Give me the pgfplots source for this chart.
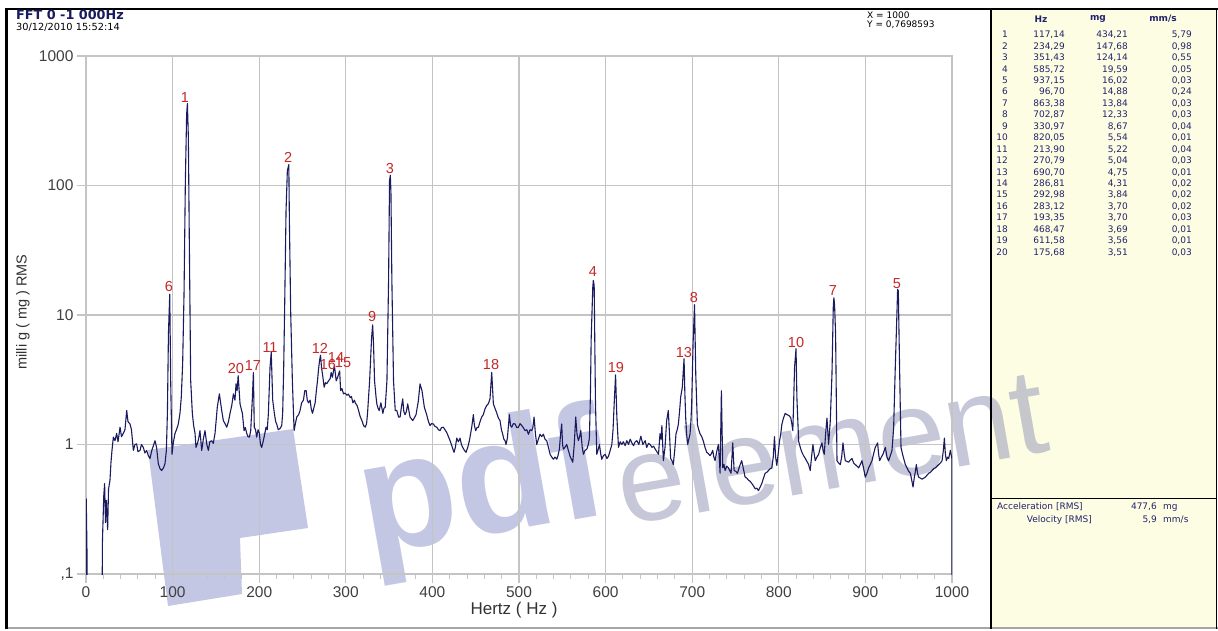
\documentclass[border=0pt]{standalone}
\usepackage{fontspec}
\setmainfont{Liberation Sans}
\newfontfamily\vfont{DejaVu Sans}
\usepackage{pgfplots}
\pgfplotsset{compat=1.18}
\usepackage{pgfplotstable}
\definecolor{navy}{HTML}{1A1A5E}
\definecolor{peakred}{HTML}{C62828}
\definecolor{gridc}{HTML}{C4C4C4}
\definecolor{panel}{HTML}{FDFDE3}
\definecolor{wm}{HTML}{9DA3D2}
\definecolor{wmg}{HTML}{A0A3BE}
\definecolor{tabc}{HTML}{22226C}

\pgfplotstableread{
x y
0 0.05
0.3 0.38
1.2 0.14
1.5 0.05
18.5 0.05
19 0.18
20.5 0.40
21.5 0.50
22.5 0.25
23.5 0.37
25 0.22
26 0.45
27.7 0.53
28.8 0.72
30 0.9
31.6 1.14
33.5 1.07
35.4 1.22
37 1.05
39.3 1.36
41 1.15
43.1 1.22
45 1.3
47 1.83
48.5 1.5
50.8 1.44
52.5 1.3
54.7 0.90
56.5 1.0
58.5 1.01
60 0.88
62.4 0.90
64 1.0
66.2 0.95
68 0.86
70 0.90
72 0.82
73.9 0.78
76 0.9
79.7 1.07
81.5 0.95
83.5 0.71
85.5 0.65
87.4 0.63
89.5 0.66
91.2 0.71
92.8 0.9
94 1.74
95.2 7.2
96.7 14.5
97.8 3.1
99.3 0.84
101 1.05
102.8 1.22
104.5 1.3
106.6 1.44
108.5 1.74
110 2.3
111.6 4.2
113.2 14.6
114.7 103
116.2 356
117.1 430
118.2 236
119.3 37.6
120.9 3.1
122.8 1.74
124.3 1.4
125.9 1.22
127 0.95
128.5 1.01
130 1.1
131.6 1.28
133.6 0.90
135.5 1.1
137.4 1.28
139.5 1.0
141.3 0.90
143 1.05
145.1 1.07
147 1.02
149 1.22
151.6 1.94
154 2.46
156.7 1.83
158.6 1.53
160.5 1.45
162.5 1.36
164.5 1.5
166.3 1.74
168.3 2.0
170.2 2.46
172 2.2
173.3 2.95
174.5 2.6
175.7 3.4
177.9 2.05
180.6 1.74
182.5 1.28
184 1.35
185.6 1.22
187 1.15
188.7 1.14
190.2 1.28
192 2.2
193.3 3.6
194.3 1.36
195.8 1.3
197.1 1.14
198.7 1.3
200.2 1.22
201.5 1.0
202.9 0.95
204.8 1.07
206.3 1.2
207.9 1.36
209.3 1.3
210.6 1.74
212.5 3.95
213.9 5.15
215.6 2.2
217.5 1.74
219 1.5
220.2 1.44
222 1.3
224.1 1.33
226 1.4
227.1 1.74
228.3 4
229.4 11.5
231 64
232.5 130
234.2 145
234.9 51
236.4 10.2
238.3 3.1
240.3 1.28
241.8 1.45
243.4 1.63
245.5 1.7
247.2 1.83
249 2.1
251.1 2.2
252.6 2.6
254.2 2.61
255.5 2.2
256.9 2.1
258.8 2.2
260 1.9
261.5 1.74
263 1.9
264.6 2.1
266 2.6
267.3 3.1
268.5 3.8
269.6 4.4
270.8 4.9
272 3.9
273.1 3.5
275 2.77
276.5 3.0
278.1 2.95
280 3.1
282 3.23
283.1 3.6
284.6 3.3
286.8 4.1
288.9 3.1
290.5 3.3
292.9 3.7
294 2.61
295.5 2.7
297.4 2.46
299 2.5
301.3 2.4
303 2.45
305.1 2.3
306.5 2.35
308.2 2.1
310 2.2
310.9 2.1
313 2.0
314.8 1.83
316.5 1.65
318.6 1.53
320.5 1.4
322.5 1.36
324 1.45
325.1 1.74
327.5 3.1
329.8 6.7
331 8.4
332 6
333.2 3.1
335 2.3
335.9 2.05
337.3 1.9
338.6 1.83
340.5 2.1
342.8 1.74
344 1.9
345.5 1.94
347.5 3.1
349.4 18.5
350.5 109
351.4 120
352.1 91
353.2 18.5
355.1 3.1
357.1 1.83
358.9 1.83
360.9 1.63
362.7 1.63
364 1.9
365.7 2.25
367 1.8
368.4 1.7
370 1.8
371.5 2.06
373 1.8
374.2 1.63
377.3 1.53
379 1.6
381.1 1.7
383.8 2.18
385.7 2.94
388 2.6
390.7 1.94
393.4 1.7
395.5 1.5
397.3 1.40
399 1.45
401.1 1.44
403 1.38
405 1.36
407 1.3
408.8 1.28
410.5 1.35
412.7 1.36
414.5 1.3
416.5 1.24
418.5 1.15
420.4 1.07
423 0.95
425 0.87
426.5 0.95
428.1 1.12
430 1.05
431.9 1.12
433.5 1.0
435 0.95
437 0.9
438.8 0.87
440.8 0.95
442.7 1.07
444 1.2
445.4 1.36
447.3 1.7
448.5 1.4
450 1.28
451.5 1.35
453.1 1.36
455 1.5
456.9 1.63
458.8 1.7
460.8 1.89
462.7 2.0
464.6 2.06
466.5 2.25
468.5 3.6
470.4 2.06
472.3 1.9
474.2 1.76
476.2 1.6
478.1 1.53
479.7 1.3
481.2 1.2
482.5 1.1
483.9 1.07
485 1.0
486.6 1.12
488.9 1.7
490.2 1.4
491.6 1.36
493.5 1.45
495.5 1.44
497.4 1.35
499.3 1.36
501.2 1.45
503.2 1.40
505 1.35
507 1.28
509 1.3
510.9 1.2
512.8 1.3
514.7 1.28
516 1.35
517.4 1.63
519 1.2
520.5 1.0
522.4 1.1
524.3 1.2
526.2 1.15
528.2 1.2
530 1.1
532 1.07
534 0.95
535.9 0.84
537.8 0.8
539.7 0.77
541.6 0.8
543.6 0.77
545 0.82
546.6 0.92
548 1.2
549.3 1.44
550.3 1.0
551.3 0.92
553 0.95
555.1 1.0
557 0.9
559 0.81
560.5 0.77
562.1 0.73
563.8 1.0
565.5 1.63
567 1.2
568.6 1.07
570 1.15
571.3 1.28
573 0.95
574.4 0.84
576.3 0.9
578.3 0.92
580 1.0
581.3 1.12
582.5 2.5
583.3 6.4
585.2 16.4
585.8 18.5
586.8 17
588.3 2.1
589.8 0.84
591.5 0.92
592.9 1.0
594.3 0.85
595.6 0.77
597.5 0.82
599.5 0.84
601.5 0.78
603.3 0.81
605.3 0.9
607.2 1.0
608.6 1.3
609.9 2.06
611.5 3.45
613 1.63
614.9 0.95
616.8 1.05
618.7 1.0
620.5 1.05
622.5 0.98
624.5 1.07
626.5 1.0
628.4 1.1
630.3 1.03
632.2 0.98
634.2 1.05
636.1 1.07
638.4 1.0
640.7 1.16
643 1.0
645.7 1.07
647.5 0.95
649.5 1.02
651.5 1.0
653.5 0.95
655.4 0.97
657.3 0.92
659.2 0.88
661.1 0.84
662.8 1.21
664 1.1
665 1.40
666.7 0.75
668.6 0.95
670.5 1.53
672.4 1.83
673.8 1.2
675.1 0.78
676.6 0.75
678.2 0.70
679.8 0.9
681.3 1.21
682.7 1.3
684 1.43
685.4 1.8
686.7 2.32
688.6 2.77
689.6 3.6
690.6 4.6
691.5 2.5
692.5 1.6
693.6 1.2
694.8 1.0
696.1 1.1
697.5 1.21
698.5 1.5
699.4 2.06
701 6.0
702.7 12.0
704.1 3.5
706 1.43
707.5 1.3
709.1 1.21
711 1.15
712.9 1.06
714.8 0.95
716.8 0.87
718.7 0.85
720.6 0.82
722.1 0.85
723.7 0.9
725 0.8
726.4 0.75
728.3 0.88
730.2 1.0
731.2 0.8
732.2 0.6
733.7 2.6
735.3 0.66
736.7 0.7
738 0.63
740 0.68
741.8 0.66
743.3 0.63
744.9 0.6
746.8 1.03
748.4 0.63
750.3 0.62
752.2 0.6
754.7 0.68
757.2 0.75
759.1 0.65
761.1 0.56
763 0.55
765 0.53
766.9 0.52
768.8 0.50
770.7 0.48
772.7 0.455
774.6 0.46
776.5 0.44
778.5 0.47
780.4 0.50
782.3 0.55
784.2 0.6
786.1 0.61
788.1 0.63
790 0.65
791.9 0.66
793.6 0.8
795 1.15
796.3 0.8
797.7 0.69
799.3 0.85
800.8 1.06
802.2 1.2
803.5 1.43
805.4 1.6
807.4 1.74
809.3 1.7
811.2 1.68
812.6 1.65
813.9 1.6
815 1.45
816.2 1.28
817.2 2.2
818.2 3.95
819.9 5.5
820.9 2.3
822.9 1.06
824.8 0.95
826.7 0.87
828.6 0.82
830.6 0.78
832.5 0.74
834.4 0.70
836.3 0.63
837.8 0.8
839.4 1.0
840.8 0.85
842.1 0.75
844 0.8
846 0.84
848 0.95
849.8 1.03
851.2 0.9
852.5 0.84
854 1.2
855.6 1.6
857.5 1.0
859.4 1.5
861.4 3.5
862.9 11.5
863.6 13.6
864.4 12
865.6 7.0
867.2 0.75
869 0.72
871 0.70
872.6 0.8
874.1 1.03
875.5 0.85
876.8 0.75
878.7 0.74
880.6 0.73
882.6 0.76
884.5 0.78
886.4 0.72
888.3 0.70
890.3 0.68
892.2 0.66
894.1 0.7
896 0.75
898 0.65
899.9 0.56
901.8 0.6
903.7 0.66
905.6 0.7
907.6 0.75
909.5 0.85
911.4 0.95
914.1 1.03
915.2 0.85
916.4 0.75
918.4 0.8
920.3 0.84
921.7 0.9
923 0.95
924.9 0.8
926.8 0.75
928.8 0.82
930.7 0.9
932.6 1.35
934.5 3.95
936.5 10.8
937.2 15.8
938 15.4
939.6 3.5
941.1 0.95
942.7 0.85
944.2 0.78
946.1 0.7
948 0.66
950 0.62
951.9 0.6
953.5 0.53
955 0.47
956.5 0.56
957.7 0.62
958.8 0.70
960.2 0.6
961.5 0.56
963.5 0.55
965.4 0.54
967.3 0.55
969.2 0.56
971.2 0.58
973.1 0.6
975 0.61
976.9 0.63
978.9 0.65
980.8 0.66
982.7 0.68
984.6 0.70
986.6 0.72
988.5 0.75
990 0.9
991.2 1.12
992.3 0.85
993.5 0.75
995 0.8
996.2 0.78
998.1 0.9
1000 0.77
1000 0.05
}\spec

\newcommand\trow[4]{%
  \pgfmathsetmacro\yy{592.3-(#1-1)*11.45}%
  \node[anchor=base east,tabtxt] at (1008,\yy) {#1};%
  \node[anchor=base east,tabtxt] at (1065,\yy) {#2};%
  \node[anchor=base east,tabtxt] at (1128,\yy) {#3};%
  \node[anchor=base east,tabtxt] at (1192,\yy) {#4};%
}

\begin{document}
\begin{tikzpicture}[x=1pt,y=1pt,
  tabtxt/.style={inner sep=0pt,text=tabc,font=\vfont\fontsize{9}{9}\selectfont},
  peaklbl/.style={inner sep=0pt,text=peakred,font=\fontsize{14.5}{14.5}\selectfont}]
\useasboundingbox (0,0) rectangle (1218,630);
\fill[white] (0,0) rectangle (1218,630);
\fill[panel] (991,2) rectangle (1216.5,621);
% watermark
\fill[wm,opacity=0.6] (148,180) -- (293,201) -- (308,102) -- (240,92) -- (242,36) -- (168,24) -- cycle;
\node[anchor=base west,rotate=10,inner sep=0pt,text=wm,text opacity=0.6,font=\fontsize{160}{160}\selectfont\bfseries] at (368,74) {pdf};
\node[anchor=base west,rotate=10,inner sep=0pt,text=wmg,text opacity=0.6,font=\fontsize{122}{122}\selectfont] at (624,104) {element};

\begin{axis}[at={(86pt,56pt)}, anchor=south west, scale only axis,
  width=866pt, height=518pt,
  xmin=0, xmax=1000, ymode=log, ymin=0.1, ymax=1000,
  axis line style={gridc, line width=1.2pt},
  grid=major, major grid style={gridc, line width=1.2pt},
  xtick={0,100,...,1000}, minor x tick num=4, yminorticks=false,
  ytick={0.1,1,10,100,1000}, yticklabels={{,1},1,10,100,1000},
  tick align=outside, tick pos=left,
  major tick length=9pt, minor tick length=5pt,
  tick style={gridc, line width=1.2pt},
  minor tick style={gridc, line width=1pt},
  tick label style={font=\fontsize{15.5}{15.5}\selectfont, text=black!75},
  /pgf/number format/assume math mode=true, /pgf/number format/1000 sep={},
  clip=true]
\addplot[navy, line width=1.1pt, line join=round] table {\spec};
\node[peaklbl] at (axis cs:114.3,478) {1};
\node[peaklbl] at (axis cs:233.3,164) {2};
\node[peaklbl] at (axis cs:351,135) {3};
\node[peaklbl] at (axis cs:585.4,21.7) {4};
\node[peaklbl] at (axis cs:936.5,17.5) {5};
\node[peaklbl] at (axis cs:95.8,16.6) {6};
\node[peaklbl] at (axis cs:862.6,15.5) {7};
\node[peaklbl] at (axis cs:702.1,13.6) {8};
\node[peaklbl] at (axis cs:330.3,9.7) {9};
\node[peaklbl] at (axis cs:819.9,6.1) {10};
\node[peaklbl] at (axis cs:212.5,5.61) {11};
\node[peaklbl] at (axis cs:270.2,5.51) {12};
\node[peaklbl] at (axis cs:690.5,5.13) {13};
\node[peaklbl] at (axis cs:288.7,4.70) {14};
\node[peaklbl] at (axis cs:296.8,4.30) {15};
\node[peaklbl] at (axis cs:279.4,4.15) {16};
\node[peaklbl] at (axis cs:192.8,4.07) {17};
\node[peaklbl] at (axis cs:467.7,4.15) {18};
\node[peaklbl] at (axis cs:612,3.93) {19};
\node[peaklbl] at (axis cs:173.2,3.86) {20};
\end{axis}

% axis titles
\node[rotate=90,inner sep=0pt,text=black!80,font=\fontsize{14.5}{14.5}\selectfont] at (23,318) {milli g ( mg ) RMS};
\node[inner sep=0pt,text=black!80,font=\fontsize{17}{17}\selectfont] at (514,20) {Hertz ( Hz )};

% frame
\draw[gray!70, line width=2pt] (5,2) -- (1218,2);
\draw[black, line width=3pt] (6.5,622) -- (6.5,1);
\draw[black, line width=2.5pt] (5,621) -- (1217.5,621);
\draw[black, line width=2pt] (991,621) -- (991,1);
\draw[black, line width=1.5pt] (1216.5,621) -- (1216.5,1);
\draw[black, line width=0.8pt] (991,132) -- (1216.5,132);

% header
\node[anchor=west,inner sep=0pt,text=navy,font=\vfont\bfseries\fontsize{12.8}{12.8}\selectfont] at (16,615) {FFT 0 -1 000Hz};
\node[anchor=west,inner sep=0pt,font=\vfont\fontsize{9.8}{9.8}\selectfont] at (16,603) {30/12/2010 15:52:14};
\node[anchor=west,inner sep=0pt,font=\vfont\fontsize{9}{9}\selectfont] at (867,614.5) {X = 1000};
\node[anchor=west,inner sep=0pt,font=\vfont\fontsize{9}{9}\selectfont] at (867,605) {Y = 0,7698593};

% table
\node[inner sep=0pt,text=tabc,font=\vfont\bfseries\fontsize{9}{9}\selectfont] at (1041,611) {Hz};
\node[inner sep=0pt,text=tabc,font=\vfont\bfseries\fontsize{9}{9}\selectfont] at (1098,611) {mg};
\node[inner sep=0pt,text=tabc,font=\vfont\bfseries\fontsize{9}{9}\selectfont] at (1163,611) {mm/s};
\trow{1}{117,14}{434,21}{5,79}
\trow{2}{234,29}{147,68}{0,98}
\trow{3}{351,43}{124,14}{0,55}
\trow{4}{585,72}{19,59}{0,05}
\trow{5}{937,15}{16,02}{0,03}
\trow{6}{96,70}{14,88}{0,24}
\trow{7}{863,38}{13,84}{0,03}
\trow{8}{702,87}{12,33}{0,03}
\trow{9}{330,97}{8,67}{0,04}
\trow{10}{820,05}{5,54}{0,01}
\trow{11}{213,90}{5,22}{0,04}
\trow{12}{270,79}{5,04}{0,03}
\trow{13}{690,70}{4,75}{0,01}
\trow{14}{286,81}{4,31}{0,02}
\trow{15}{292,98}{3,84}{0,02}
\trow{16}{283,12}{3,70}{0,02}
\trow{17}{193,35}{3,70}{0,03}
\trow{18}{468,47}{3,69}{0,01}
\trow{19}{611,58}{3,56}{0,01}
\trow{20}{175,68}{3,51}{0,03}

\node[anchor=base west,tabtxt] at (997,120.5) {Acceleration [RMS]};
\node[anchor=base east,tabtxt] at (1092,107.5) {Velocity [RMS]};
\node[anchor=base east,tabtxt] at (1157,120.5) {477,6};
\node[anchor=base west,tabtxt] at (1163,120.5) {mg};
\node[anchor=base east,tabtxt] at (1157,107.5) {5,9};
\node[anchor=base west,tabtxt] at (1163,107.5) {mm/s};
\end{tikzpicture}
\end{document}
